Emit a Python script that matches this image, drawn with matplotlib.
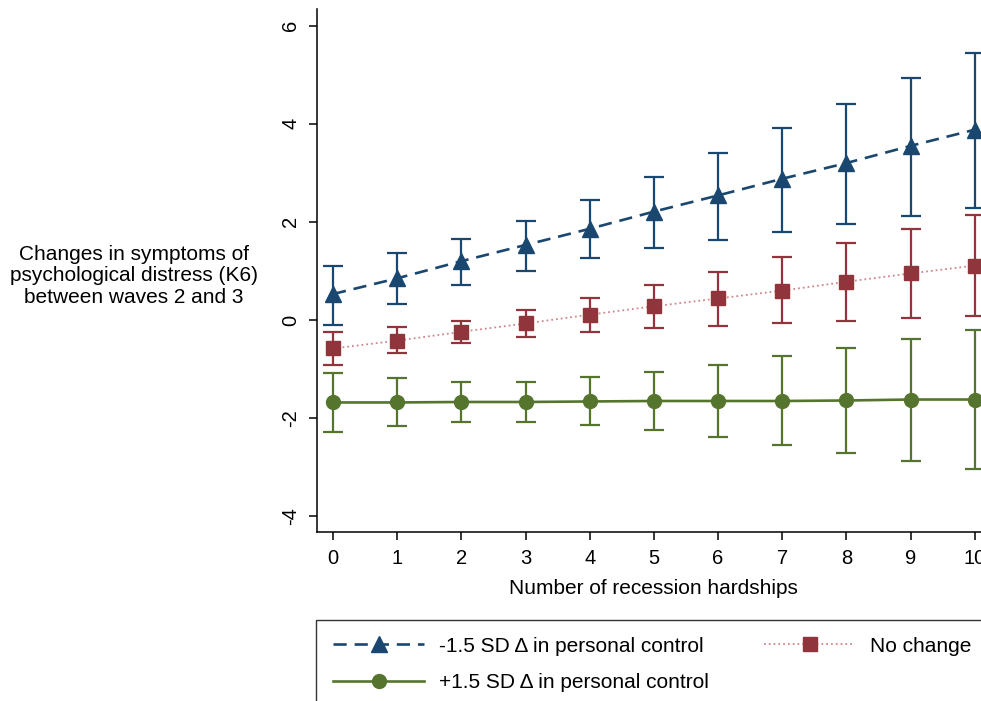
import matplotlib
matplotlib.use('Agg')
import matplotlib.pyplot as plt
import numpy as np

plt.rcParams['font.family'] = ['Liberation Sans', 'DejaVu Sans']
plt.rcParams['axes.unicode_minus'] = False

# number of recession hardships
hardships = list(range(0, 11))

# -1.5 SD change in personal control
low_est = [0.53, 0.85, 1.20, 1.53, 1.86, 2.21, 2.54, 2.88, 3.20, 3.55, 3.88]
low_hi = [1.11, 1.36, 1.66, 2.02, 2.45, 2.92, 3.40, 3.91, 4.41, 4.93, 5.44]
low_lo = [-0.11, 0.33, 0.71, 1.00, 1.26, 1.46, 1.64, 1.80, 1.96, 2.12, 2.28]

# no change
mid_est = [-0.58, -0.42, -0.24, -0.07, 0.11, 0.28, 0.44, 0.60, 0.78, 0.95, 1.11]
mid_hi = [-0.24, -0.14, -0.01, 0.20, 0.45, 0.71, 0.98, 1.29, 1.57, 1.86, 2.15]
mid_lo = [-0.92, -0.68, -0.47, -0.34, -0.25, -0.17, -0.12, -0.07, -0.01, 0.04, 0.08]

# +1.5 SD change in personal control
high_est = [-1.68, -1.68, -1.67, -1.67, -1.66, -1.65, -1.65, -1.65, -1.64, -1.62, -1.62]
high_hi = [-1.07, -1.19, -1.26, -1.26, -1.17, -1.06, -0.91, -0.74, -0.56, -0.39, -0.21]
high_lo = [-2.29, -2.16, -2.08, -2.08, -2.13, -2.24, -2.39, -2.55, -2.71, -2.88, -3.04]

navy = '#1a476f'
maroon = '#90353b'
green = '#55752f'

fig = plt.figure(figsize=(9.81, 7.01), dpi=100)
ax = fig.add_axes([0.3231, 0.2411, 0.687, 0.7461])

def draw(est, lo, hi, col, **kw):
    x = np.array(hardships)
    est = np.array(est)
    yerr = [est - np.array(lo), np.array(hi) - est]
    ax.errorbar(x, est, yerr=yerr, fmt='none', ecolor=col, elinewidth=1.6,
                capsize=7, capthick=1.6, zorder=2)
    return ax.plot(x, est, zorder=3, **kw)[0]

h1 = draw(low_est, low_lo, low_hi, navy, color=navy, lw=1.9, dashes=(5, 3),
          marker='^', ms=11, label='-1.5 SD \u0394 in personal control')
h2 = draw(mid_est, mid_lo, mid_hi, maroon, color='#d0868c', lw=1.3, ls=':',
          marker='s', ms=10, mfc=maroon, mec=maroon, label='No change')
h3 = draw(high_est, high_lo, high_hi, green, color=green, lw=1.9,
          marker='o', ms=10, label='+1.5 SD \u0394 in personal control')

ax.set_xlim(-0.25, 10.25)
ax.set_ylim(-4.32, 6.34)
ax.set_xticks(hardships)
ax.set_yticks([-4, -2, 0, 2, 4, 6])
for s in ['top', 'right']:
    ax.spines[s].set_visible(False)
for s in ['left', 'bottom']:
    ax.spines[s].set_linewidth(1.1)
ax.tick_params(axis='both', length=6, width=1.1, labelsize=14.5, pad=6)
plt.setp(ax.get_yticklabels(), rotation=90, va='center')
ax.set_xlabel('Number of recession hardships', fontsize=15, labelpad=8)

fig.text(134 / 981, 1 - 276 / 701,
         'Changes in symptoms of\npsychological distress (K6)\nbetween waves 2 and 3',
         ha='center', va='center', fontsize=15, linespacing=1.18)

# legend box runs past the right edge of the figure, as in the original
leg = fig.legend(handles=[h1, h3, h2], ncol=2, loc='upper left', mode='expand',
                 bbox_to_anchor=(316 / 981, 1 - 620 / 701, 672 / 981, 0),
                 fontsize=15, frameon=True, fancybox=False,
                 edgecolor='black', handlelength=4.4, handletextpad=0.7,
                 columnspacing=2.3, labelspacing=0.85, borderpad=0.8,
                 borderaxespad=0)
leg.get_frame().set_linewidth(1.0)

fig.savefig('out.png', dpi=100)
